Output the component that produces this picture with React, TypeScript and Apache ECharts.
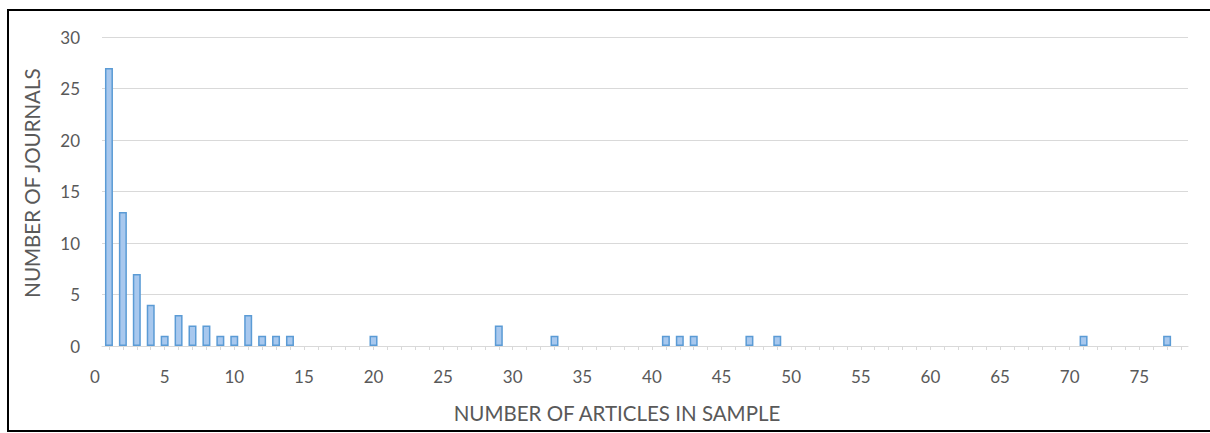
import React, { useEffect, useRef } from "react";
import * as echarts from "echarts";

// Number of articles in sample (x) and number of journals with that count (y)
const articleCounts = [1, 2, 3, 4, 5, 6, 7, 8, 9, 10, 11, 12, 13, 14, 20, 29, 33, 41, 42, 43, 47, 49, 71, 77];
const journalCounts = [27, 13, 7, 4, 1, 3, 2, 2, 1, 1, 3, 1, 1, 1, 1, 2, 1, 1, 1, 1, 1, 1, 1, 1];
const xTickLabels = [0, 5, 10, 15, 20, 25, 30, 35, 40, 45, 50, 55, 60, 65, 70, 75];
const xMinorTicks = [1, 2, 3, 4, 5, 6, 7, 8, 9, 10, 11, 12, 13, 14, 15, 16, 17, 18, 19, 20, 21, 22, 23, 24, 25, 26, 27, 28, 29, 30, 31, 32, 33, 34, 35, 36, 37, 38, 39, 40, 41, 42, 43, 44, 45, 46, 47, 48, 49, 50, 51, 52, 53, 54, 55, 56, 57, 58, 59, 60, 61, 62, 63, 64, 65, 66, 67, 68, 69, 70, 71, 72, 73, 74, 75, 76, 77, 78];
const yTicks = [0, 5, 10, 15, 20, 25, 30];
const xTitle = "NUMBER OF ARTICLES IN SAMPLE";
const yTitle = "NUMBER OF JOURNALS";

const FONT = "Lato, 'Open Sans', sans-serif";
const TEXT = "#595959";

export default function App() {
  const ref = useRef<HTMLDivElement>(null);
  useEffect(() => {
    if (!ref.current) return;
    const chart = echarts.init(ref.current, null, { renderer: "svg" });
    const plotLeft = 102;
    const plotWidth = 1086;
    const plotTop = 37;
    const plotHeight = 309;
    const unit = plotWidth / 78;
    const data = articleCounts.map((a, i) => [a, journalCounts[i]]);
    chart.setOption({
      animation: false,
      backgroundColor: "#ffffff",
      textStyle: { fontFamily: FONT },
      grid: [
        { left: plotLeft, top: plotTop, width: plotWidth, height: plotHeight, containLabel: false, outerBoundsMode: "none" },
        { left: plotLeft - unit / 2, top: plotTop, width: plotWidth + unit / 2, height: plotHeight, containLabel: false, outerBoundsMode: "none" },
      ],
      xAxis: [
        {
          type: "value",
          gridIndex: 0,
          min: 0.5,
          max: 78.5,
          axisLine: { show: true, lineStyle: { color: "#d9d9d9", width: 1 } },
          axisTick: { show: true, customValues: xMinorTicks, length: 4, lineStyle: { color: "#d9d9d9" } },
          axisLabel: { show: false },
          splitLine: { show: false },
        },
        {
          type: "value",
          gridIndex: 1,
          min: 0,
          max: 78.5,
          interval: 5,
          axisLine: { show: false },
          axisTick: { show: false },
          splitLine: { show: false },
          axisLabel: {
            show: true,
            customValues: xTickLabels,
            color: TEXT,
            fontSize: 17,
            fontFamily: FONT,
            margin: 22,
          },
        },
      ],
      yAxis: [
        {
          type: "value",
          gridIndex: 0,
          min: 0,
          max: 30,
          interval: 5,
          axisLine: { show: false },
          axisTick: { show: false },
          splitLine: { show: true, lineStyle: { color: "#d9d9d9", width: 1 } },
          axisLabel: { color: TEXT, fontSize: 17, fontFamily: FONT, margin: 22, customValues: yTicks },
        },
        {
          type: "value",
          gridIndex: 1,
          min: 0,
          max: 30,
          show: false,
        },
      ],
      series: [
        {
          type: "bar",
          xAxisIndex: 0,
          yAxisIndex: 0,
          data,
          barWidth: 8,
          itemStyle: {
            color: "#a8c8ee",
            borderColor: "#5b9bd5",
            borderWidth: 1.5,
          },
        },
      ],
      graphic: [
        {
          type: "text",
          x: 617,
          y: 413,
          style: {
            text: xTitle,
            fill: TEXT,
            font: `20.5px ${FONT}`,
            align: "center",
            verticalAlign: "middle",
          },
        },
        {
          type: "text",
          x: 32,
          y: 183,
          rotation: Math.PI / 2,
          style: {
            text: yTitle,
            fill: TEXT,
            font: `20.5px ${FONT}`,
            align: "center",
            verticalAlign: "middle",
          },
        },
      ],
    });
    return () => chart.dispose();
  }, []);

  return (
    <>
      <div
        ref={ref}
        style={{ position: "absolute", left: 0, top: 0, width: 1210, height: 433 }}
      />
      <div
        style={{
          position: "absolute",
          left: 7,
          top: 9,
          width: 1203,
          height: 423,
          boxSizing: "border-box",
          borderLeft: "2px solid #000",
          borderTop: "2px solid #000",
          borderBottom: "2px solid #000",
          pointerEvents: "none",
        }}
      />
    </>
  );
}
